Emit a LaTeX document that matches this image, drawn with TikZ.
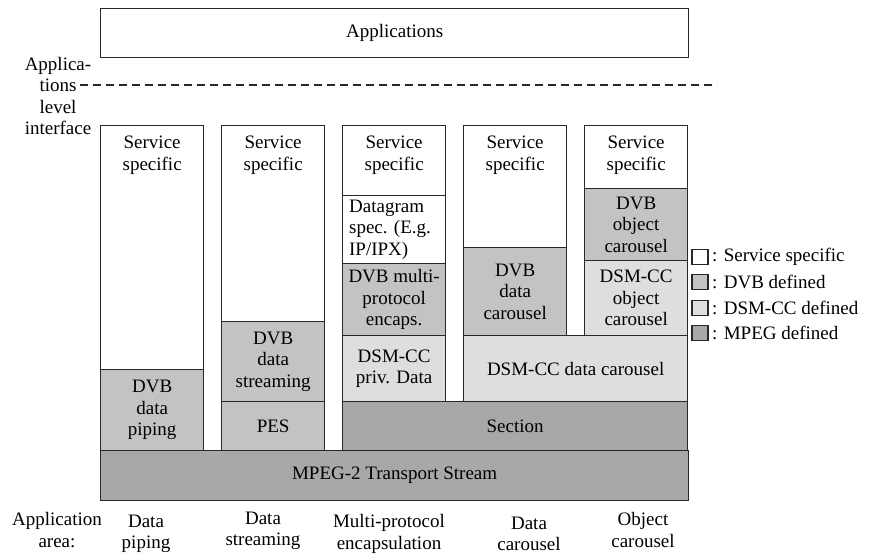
\documentclass[tikz,border=0pt]{standalone}
\usepackage{fontspec}
\setmainfont{Liberation Serif}
\definecolor{dvbgray}{RGB}{195,195,195}
\definecolor{dsmgray}{RGB}{222,222,222}
\definecolor{mpeggray}{RGB}{168,168,168}
\definecolor{edge}{RGB}{40,40,40}
\begin{document}
\begin{tikzpicture}[x=1pt,y=-1pt,
  font=\fontsize{19}{21.5}\selectfont,
  box/.style={draw=edge, line width=1.3pt, minimum width=103pt,
    anchor=north west, inner sep=0pt, align=center},
  svc/.style={box, fill=white},
  dvb/.style={box, fill=dvbgray},
  dsm/.style={box, fill=dsmgray},
  mpeg/.style={box, fill=mpeggray},
  svctext/.style={anchor=north, align=center, inner sep=0pt},
  lab/.style={align=center, inner sep=0pt},
  key/.style={draw=edge, line width=1.3pt, minimum width=16pt,
    minimum height=15pt, inner sep=0pt}]
\useasboundingbox (0,0) rectangle (870,557);

% application layer and interface line
\node[svc, minimum width=588pt, minimum height=49pt] (apps) at (100,8) {Applications};
\node[lab] (ifc) at (58,96) {Applica-\\tions\\level\\interface};
\coordinate (dashL) at (80,85);
\coordinate (dashR) at (717,85);
\draw[edge, line width=1.3pt, dash pattern=on 8pt off 5pt] (dashL) -- (dashR);

% data piping
\node[svc, minimum height=244pt] (c1s) at (100,125) {};
\node[svctext] (c1st) at ([yshift=-11pt]c1s.north) {Service\\specific};
\node[dvb, minimum height=81pt] (c1d) at (100,369) {DVB\\data\\piping};

% data streaming
\node[svc, minimum height=196pt] (c2s) at (221,125) {};
\node[svctext] (c2st) at ([yshift=-11pt]c2s.north) {Service\\specific};
\node[dvb, minimum height=80pt] (c2d) at (221,321) {DVB\\data\\streaming};
\node[dvb, minimum height=49pt] (c2p) at (221,401) {PES};

% multi-protocol encapsulation
\node[svc, minimum height=70pt] (c3s) at (342,125) {};
\node[svctext] (c3st) at ([yshift=-11pt]c3s.north) {Service\\specific};
\node[svc, minimum height=68pt, align=flush left, text width=90pt] (c3g) at (342,195) {Datagram\\spec. (E.g.\\IP/IPX)};
\node[dvb, minimum height=72pt] (c3m) at (342,263) {DVB multi-\\protocol\\encaps.};
\node[dsm, minimum height=66pt] (c3p) at (342,335) {DSM-CC\\priv. Data};

% data carousel
\node[svc, minimum height=122pt] (c4s) at (463,125) {};
\node[svctext] (c4st) at ([yshift=-11pt]c4s.north) {Service\\specific};
\node[dvb, minimum height=88pt] (c4d) at (463,247) {DVB\\data\\carousel};

% object carousel
\node[svc, minimum height=63pt] (c5s) at (584,125) {};
\node[svctext] (c5st) at ([yshift=-11pt]c5s.north) {Service\\specific};
\node[dvb, minimum height=72pt] (c5d) at (584,188) {DVB\\object\\carousel};
\node[dsm, minimum height=75pt] (c5o) at (584,260) {DSM-CC\\object\\carousel};

% shared lower layers
\node[dsm, minimum width=224pt, minimum height=66pt] (dcc) at (463,335) {DSM-CC data carousel};
\node[mpeg, minimum width=345pt, minimum height=49pt] (sec) at (342,401) {Section};
\node[mpeg, minimum width=588pt, minimum height=50pt] (ts) at (100,450) {MPEG-2 Transport Stream};

% legend
\node[key, fill=white] (k1) at (700,257) {};
\node[lab, anchor=west] (k1t) at (712,257) {: Service specific};
\node[key, fill=dvbgray] (k2) at (700,282) {};
\node[lab, anchor=west] (k2t) at (712,282) {: DVB defined};
\node[key, fill=dsmgray] (k3) at (700,308) {};
\node[lab, anchor=west] (k3t) at (712,308) {: DSM-CC defined};
\node[key, fill=mpeggray] (k4) at (700,333) {};
\node[lab, anchor=west] (k4t) at (712,333) {: MPEG defined};

% application areas
\node[lab] (area) at (57,530) {Application\\area:};
\node[lab] (a1) at (146,534) {Data\\piping};
\node[lab] (a2) at (263,531) {Data\\streaming};
\node[lab] (a3) at (389,534) {Multi-protocol\\encapsulation};
\node[lab] (a4) at (529,534) {Data\\carousel};
\node[lab] (a5) at (643,530) {Object\\carousel};
\end{tikzpicture}
\end{document}
